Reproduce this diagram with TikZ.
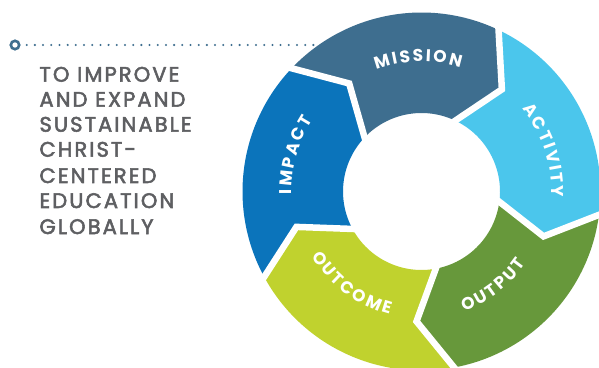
\documentclass[tikz,border=0pt]{standalone}
\usepackage{fontspec}
\setmainfont{Poppins}
\newfontfamily\labfont{Poppins}
\newfontfamily\goalfont{Poppins}[FakeBold=2.5,LetterSpace=10]
\usetikzlibrary{calc,decorations.text}
\definecolor{cmission}{HTML}{3E6E8F}
\definecolor{cactivity}{HTML}{4BC6EC}
\definecolor{coutput}{HTML}{67983B}
\definecolor{coutcome}{HTML}{C0D22E}
\definecolor{cimpact}{HTML}{0B74BB}
\definecolor{cgray}{HTML}{5E5F62}
\newcommand\labstyle{\labfont\bfseries\fontsize{17}{17}\selectfont}
\begin{document}
\begin{tikzpicture}[x=1pt,y=1pt,
  gap/.style={white, line width=6.5pt, line join=miter, shorten <=-3pt, shorten >=-3pt},
  goalline/.style={anchor=base west, inner sep=0pt, text=cgray, font=\goalfont\fontsize{21}{25}\selectfont},
  seglabel/.style={decorate, decoration={text along path, text color=white, text align=center, text={|\labstyle|#1}}}]
\fill[white] (0,0) rectangle (599,367);
\useasboundingbox (0,0) rectangle (599,367);
\coordinate (C) at (421.5,175.5);
\def\Ro{179}\def\Rmid{130}\def\Ri{78.5}\def\tip{12.7}
% segments
\foreach \b/\col in {136.5/cmission, 64.5/cactivity, -7.5/coutput, -79.5/coutcome, -151.5/cimpact}{
  \fill[\col] ($(C)+(\b:\Ro)$) arc[start angle=\b, end angle=\b-72, radius=\Ro]
    -- ($(C)+({\b-72-\tip}:\Rmid)$) -- ($(C)+({\b-72}:\Ri)$)
    arc[start angle=\b-72, end angle=\b, radius=\Ri]
    -- ($(C)+({\b-\tip}:\Rmid)$) -- cycle;
}
% white gaps
\foreach \b in {136.5, 64.5, -7.5, -79.5, -151.5}{
  \draw[gap] ($(C)+(\b:\Ro)$) -- ($(C)+({\b-\tip}:\Rmid)$) -- ($(C)+(\b:\Ri)$);
}
% labels
\path[seglabel={M{\kern2.2pt}I{\kern2.2pt}S{\kern2.2pt}S{\kern2.2pt}I{\kern2.2pt}O{\kern2.2pt}N}]
  ($(C)+(136.5:130)$) arc[start angle=136.5, end angle=46.5, radius=130];
\path[seglabel={A{\kern2.2pt}C{\kern2.2pt}T{\kern2.2pt}I{\kern2.2pt}V{\kern2.2pt}I{\kern2.2pt}T{\kern2.2pt}Y}]
  ($(C)+(63.5:130)$) arc[start angle=63.5, end angle=-26.5, radius=130];
\path[seglabel={I{\kern2.2pt}M{\kern2.2pt}P{\kern2.2pt}A{\kern2.2pt}C{\kern2.2pt}T}]
  ($(C)+(209:130)$) arc[start angle=209, end angle=119, radius=130];
\path[seglabel={O{\kern2.2pt}U{\kern2.2pt}T{\kern2.2pt}P{\kern2.2pt}U{\kern2.2pt}T}]
  ($(C)+(-97.6:127)$) arc[start angle=-97.6, end angle=-7.6, radius=127];
\path[seglabel={O{\kern2.2pt}U{\kern2.2pt}T{\kern2.2pt}C{\kern2.2pt}O{\kern2.2pt}M{\kern2.2pt}E}]
  ($(C)+(-172:127)$) arc[start angle=-172, end angle=-82, radius=127];
% dotted leader
\node[circle, draw=cmission, line width=2.6pt, inner sep=0pt, minimum size=8.4pt] (dotstart) at (15,322) {};
\coordinate (d0) at (26.7,322);
\coordinate (dotend) at (314,322);
\draw[cmission, line width=2.3pt, line cap=round, dash pattern=on 0pt off 8.19pt] (d0) -- (dotend);
% goal text
\node[goalline] (g1) at (39.3,285.3) {TO IMPROVE};
\node[goalline] (g2) at (39.3,260.3) {AND EXPAND};
\node[goalline] (g3) at (39.3,235.3) {SUSTAINABLE};
\node[goalline] (g4) at (39.3,210.3) {CHRIST-};
\node[goalline] (g5) at (39.3,184) {CENTERED};
\node[goalline] (g6) at (39.3,159) {EDUCATION};
\node[goalline] (g7) at (39.3,133) {GLOBALLY};
\end{tikzpicture}
\end{document}
